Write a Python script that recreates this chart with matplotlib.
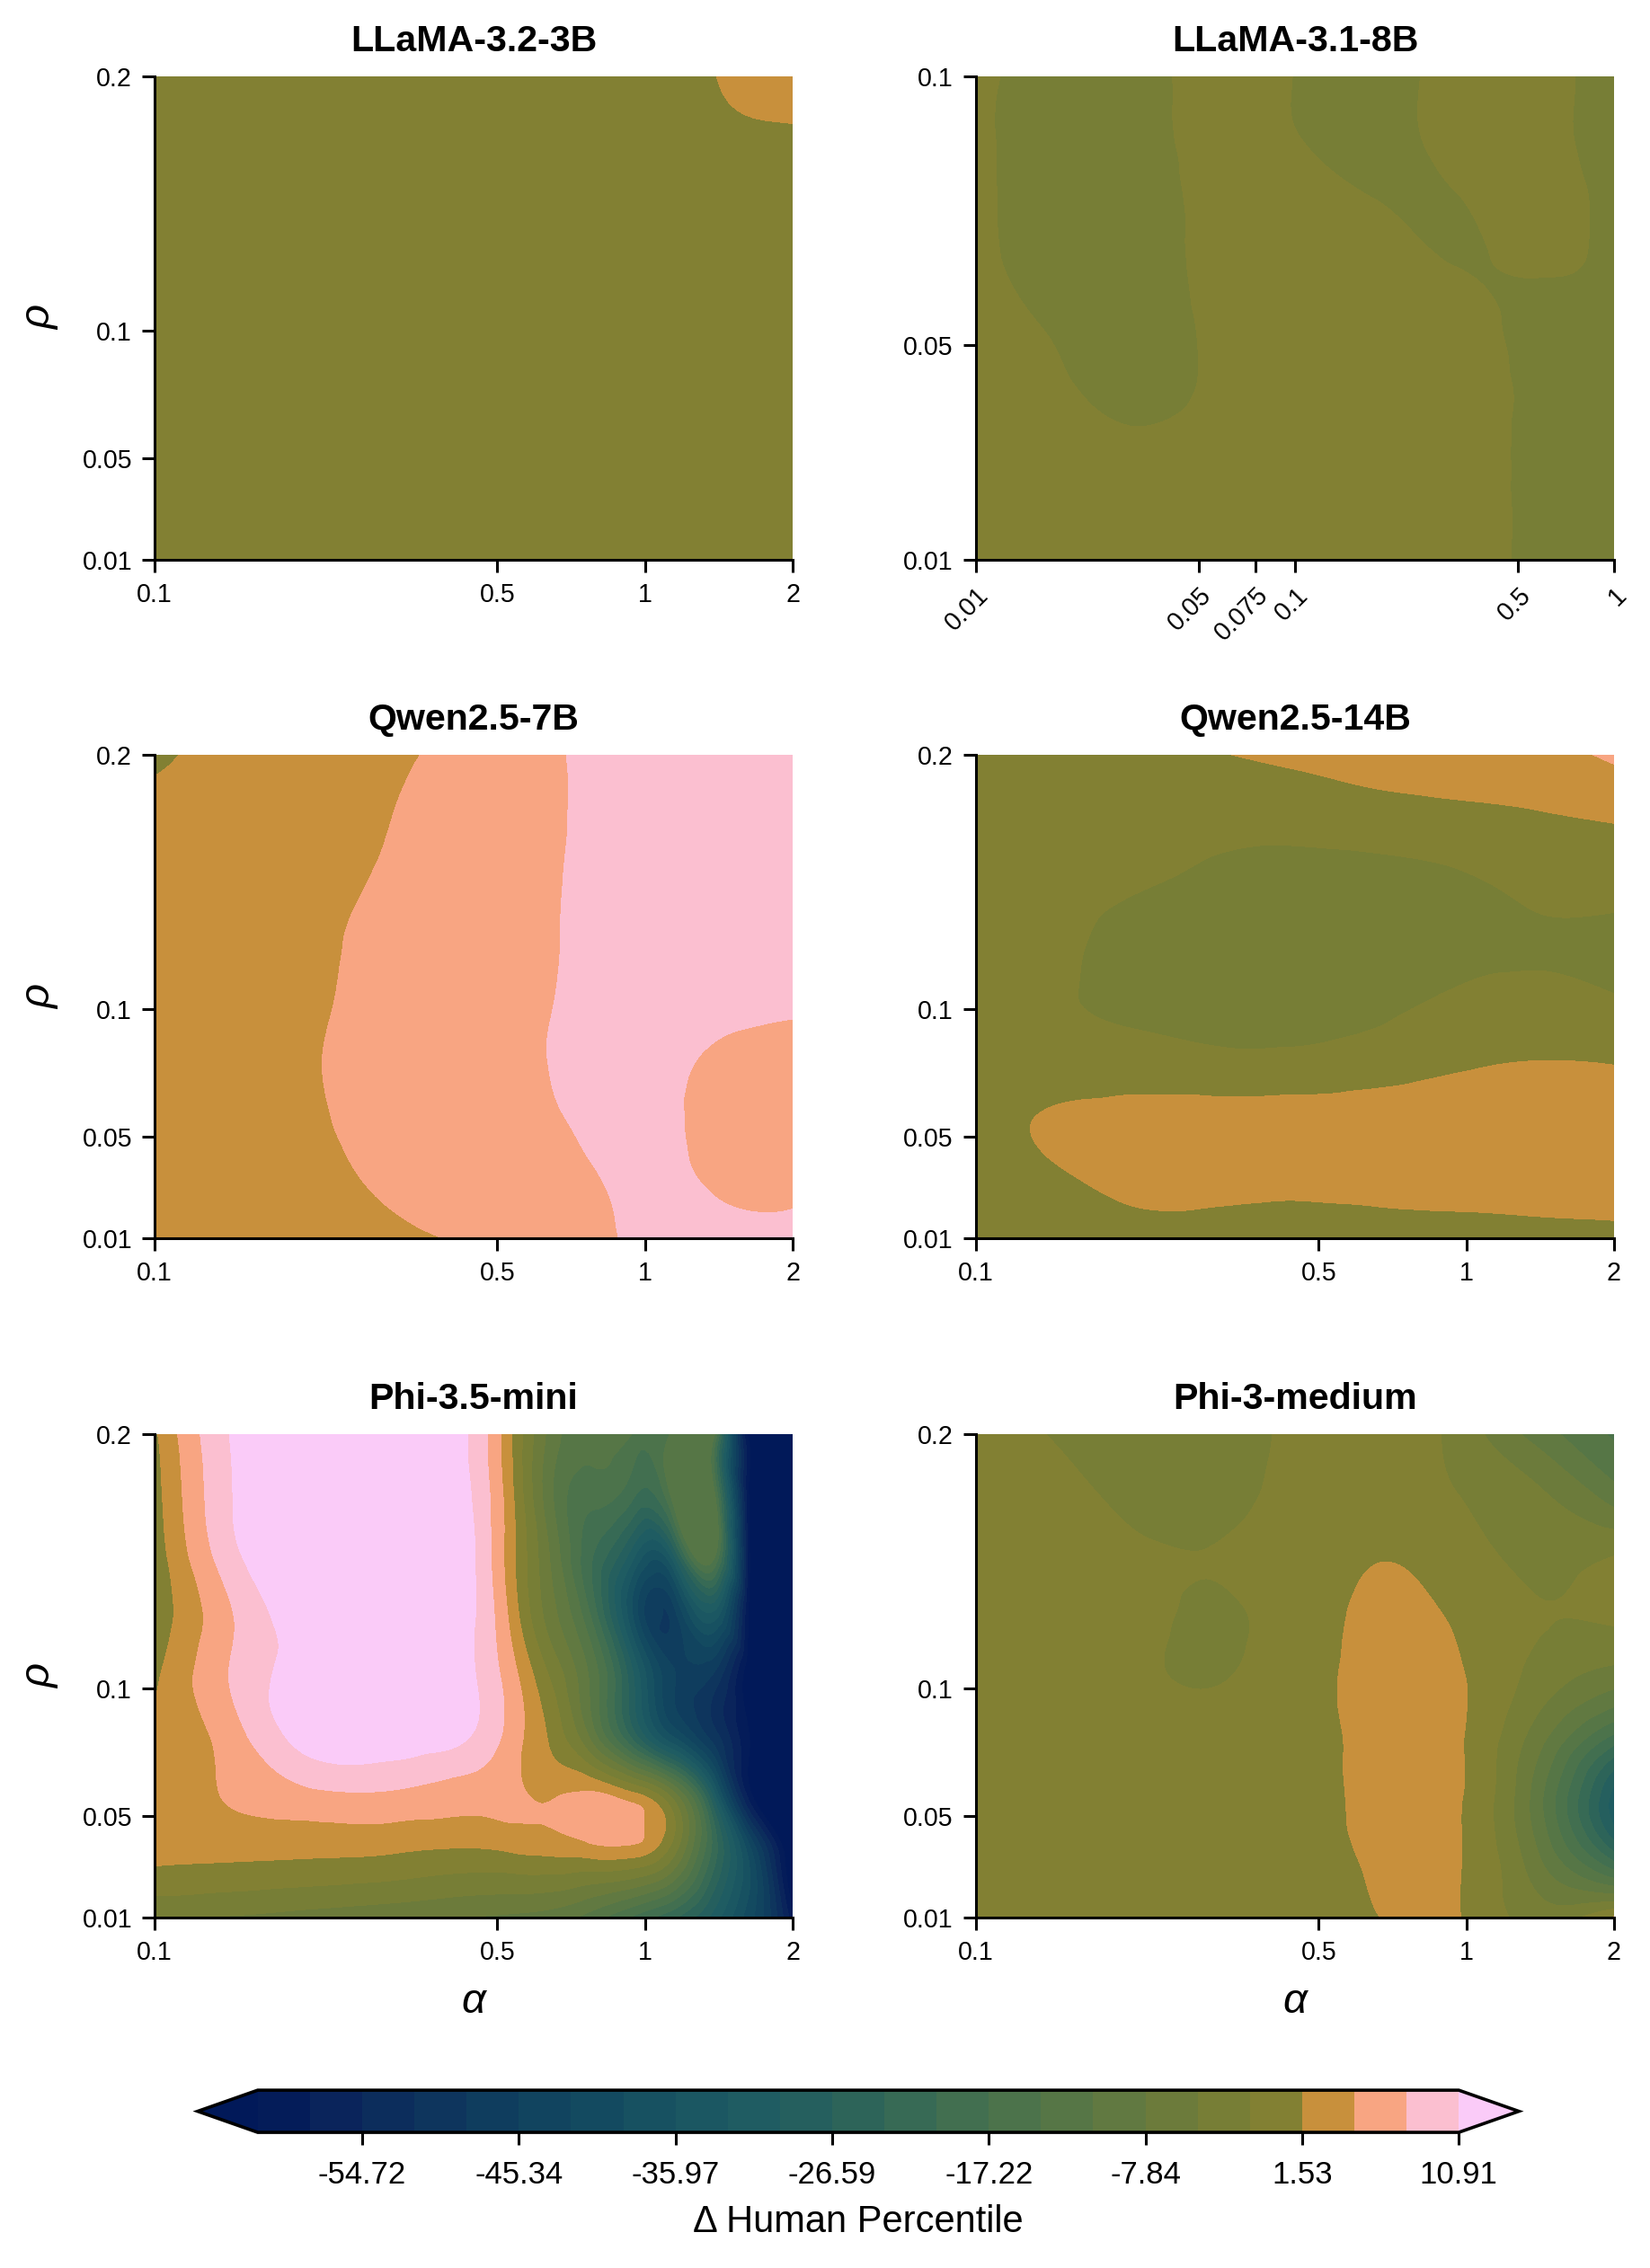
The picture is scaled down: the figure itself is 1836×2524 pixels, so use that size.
import numpy as np
import matplotlib
matplotlib.use("Agg")
import matplotlib.pyplot as plt
import matplotlib.tri as mtri
from matplotlib.ticker import FixedLocator, NullLocator

plt.rcParams['font.family'] = ['Liberation Sans', 'DejaVu Sans']

# ---------------- data ----------------
LEVEL_MIN = -60.97
LEVEL_MAX = 10.91
N_LEVELS = 24

# standard grid (alpha in [0.1, 2], rho in [0.01, 0.2]); rows listed from rho=0.2 down to rho=0.01
ALPHA_STD = [0.1, 0.145, 0.21, 0.31, 0.45, 0.65, 0.95, 1.38, 2.0]
RHO_STD = [0.2, 0.176, 0.153, 0.129, 0.105, 0.081, 0.058, 0.034, 0.01]

# LLaMA-3.1-8B grid
ALPHA_8B = [0.01, 0.0178, 0.0316, 0.0562, 0.1, 0.178, 0.316, 0.562, 1.0]
RHO_8B = [0.1, 0.089, 0.078, 0.066, 0.055, 0.044, 0.033, 0.021, 0.01]

# Phi-3.5-mini grid (denser in alpha)
ALPHA_PHI35 = [0.1, 0.145, 0.21, 0.31, 0.45, 0.54, 0.65, 0.78, 0.95, 1.14, 1.38, 1.66, 2.0]
RHO_PHI35 = RHO_STD

LLAMA32_3B = [
    [0.3, 0.4, 0.4, 0.5, 0.6, 0.7, 0.9, 1.5, 2.6],
    [0.3, 0.3, 0.4, 0.4, 0.5, 0.6, 0.7, 1.2, 1.3],
    [0.2, 0.3, 0.3, 0.4, 0.4, 0.5, 0.6, 0.7, 0.8],
    [0.2, 0.2, 0.3, 0.3, 0.4, 0.4, 0.5, 0.5, 0.6],
    [0.1, 0.2, 0.2, 0.3, 0.3, 0.4, 0.4, 0.4, 0.5],
    [0.1, 0.1, 0.2, 0.2, 0.3, 0.3, 0.3, 0.4, 0.4],
    [0.0, 0.1, 0.1, 0.2, 0.2, 0.2, 0.3, 0.3, 0.3],
    [0.0, 0.0, 0.1, 0.1, 0.1, 0.2, 0.2, 0.2, 0.3],
    [0.0, 0.0, 0.0, 0.1, 0.1, 0.1, 0.2, 0.2, 0.2],
]

LLAMA31_8B = [
    [-1.3, -2.4, -2.4, -0.8, -1.65, -2.3, -1.0, -1.0, -2.3],
    [-1.3, -2.5, -2.5, -0.8, -1.5, -2.3, -1.0, -1.0, -2.3],
    [-1.2, -2.6, -2.6, -0.9, -0.6, -1.7, -1.65, -0.8, -2.3],
    [-1.0, -2.7, -2.7, -1.0, -0.4, -0.5, -1.7, -1.2, -2.3],
    [-0.8, -2.0, -2.7, -1.1, -0.4, -0.4, -0.7, -2.2, -2.4],
    [-0.5, -1.3, -2.5, -1.2, -0.4, -0.3, -0.6, -2.0, -2.4],
    [-0.4, -0.8, -1.4, -0.9, -0.4, -0.3, -0.6, -2.0, -2.4],
    [-0.3, -0.5, -0.8, -0.6, -0.4, -0.3, -0.6, -2.0, -2.4],
    [-0.3, -0.4, -0.5, -0.5, -0.4, -0.3, -0.6, -2.0, -2.4],
]

QWEN_7B = [
    [0.9, 2.6, 3.4, 4.4, 5.5, 7.5, 8.6, 8.8, 8.8],
    [2.3, 2.9, 3.6, 4.7, 5.9, 7.5, 8.6, 8.8, 8.8],
    [2.4, 3.0, 3.8, 5.0, 6.1, 7.6, 8.6, 8.8, 8.8],
    [2.5, 3.1, 4.1, 5.4, 6.2, 7.65, 8.6, 8.8, 8.8],
    [2.5, 3.2, 4.3, 5.5, 6.4, 7.75, 8.6, 8.4, 8.1],
    [2.5, 3.2, 4.5, 5.6, 6.5, 7.9, 8.5, 7.6, 7.4],
    [2.4, 3.1, 4.4, 5.5, 6.6, 7.6, 8.4, 7.3, 7.2],
    [2.3, 2.9, 4.1, 5.1, 6.3, 7.1, 8.1, 7.6, 7.4],
    [2.2, 2.7, 3.5, 4.3, 5.0, 6.5, 8.0, 8.3, 8.3],
]

QWEN_14B = [
    [0.0, 0.2, 0.5, 1.4, 2.0, 2.6, 3.0, 3.5, 5.2],
    [-0.3, -0.3, -0.4, -0.6, -0.3, 0.3, 0.8, 1.3, 1.9],
    [-0.5, -0.8, -1.2, -2.0, -2.5, -2.4, -1.8, -0.8, -0.5],
    [-0.4, -1.0, -2.3, -2.7, -2.8, -2.7, -2.3, -1.8, -2.0],
    [-0.3, -1.2, -2.4, -2.6, -2.6, -2.2, -1.4, -1.0, -1.5],
    [0.0, -0.3, -0.3, -1.0, -1.0, -0.3, 0.8, 1.4, 1.2],
    [0.3, 1.8, 2.3, 2.6, 2.7, 2.8, 3.0, 3.0, 2.9],
    [0.2, 1.2, 2.3, 2.5, 2.4, 2.5, 2.7, 2.8, 2.8],
    [0.0, 0.3, 0.6, 0.6, 0.3, 0.6, 0.5, 0.6, 0.8],
]

PHI35_MINI = [
    [1.0, 11.3, 13.5, 13.8, 10.0, 1.0, -9.5, -13.5, -14.5, -12.5, -12.5, -66.0, -66.0],
    [0.3, 11.0, 13.8, 14.0, 10.4, 1.5, -11.0, -16.0, -20.0, -12.5, -12.5, -66.0, -66.0],
    [-0.3, 10.2, 14.0, 14.0, 10.9, 2.0, -9.0, -20.0, -32.0, -30.0, -12.5, -66.0, -66.0],
    [-0.4, 7.8, 13.0, 14.0, 11.0, 3.0, -7.0, -18.0, -40.0, -47.0, -34.0, -66.0, -66.0],
    [1.0, 8.2, 12.5, 13.5, 11.0, 5.5, -2.5, -12.0, -30.0, -45.0, -49.0, -66.0, -66.0],
    [2.0, 6.5, 12.5, 12.8, 10.5, 6.0, 0.5, -9.0, -25.0, -39.0, -50.0, -62.0, -66.0],
    [3.0, 5.0, 7.0, 7.2, 6.0, 5.3, 4.4, 5.4, 2.5, -6.0, -31.0, -61.5, -65.0],
    [2.2, 2.0, 1.7, 1.2, 0.5, 1.0, 1.5, 2.0, 1.8, -4.5, -22.0, -42.0, -66.0],
    [-4.5, -5.0, -6.0, -7.0, -8.0, -8.5, -9.5, -12.5, -18.0, -23.0, -31.0, -42.0, -60.0],
]

PHI3_MEDIUM = [
    [-0.8, -1.7, -2.6, -2.5, -1.0, 0.0, -2.5, -9.0, -14.5],
    [-0.6, -1.1, -2.1, -2.4, -0.5, 0.5, -1.5, -4.0, -9.5],
    [-0.5, -0.8, -1.2, -1.5, 0.0, 1.4, 0.0, -2.5, -1.8],
    [-0.4, -0.6, -0.8, -2.0, 0.0, 2.0, 1.2, -1.3, -1.0],
    [-0.3, -0.4, -1.0, -1.8, 0.3, 2.3, 1.9, -2.5, -6.0],
    [-0.2, -0.3, -0.3, -0.5, 0.5, 2.3, 2.0, -6.0, -18.0],
    [-0.1, -0.1, 0.0, 0.2, 0.7, 2.3, 2.0, -9.0, -31.0],
    [0.0, 0.0, 0.2, 0.4, 0.8, 2.0, 1.9, -7.0, -22.0],
    [0.0, 0.1, 0.3, 0.5, 0.8, 1.4, 1.8, -3.0, 2.0],
]

TITLES = ["LLaMA-3.2-3B", "LLaMA-3.1-8B", "Qwen2.5-7B", "Qwen2.5-14B", "Phi-3.5-mini", "Phi-3-medium"]

XTICKS_STD = [0.1, 0.5, 1, 2]
XTICKLABELS_STD = ["0.1", "0.5", "1", "2"]
YTICKS_STD = [0.01, 0.05, 0.1, 0.2]
YTICKLABELS_STD = ["0.01", "0.05", "0.1", "0.2"]
XTICKS_8B = [0.01, 0.05, 0.075, 0.1, 0.5, 1]
XTICKLABELS_8B = ["0.01", "0.05", "0.075", "0.1", "0.5", "1"]
YTICKS_8B = [0.01, 0.05, 0.1]
YTICKLABELS_8B = ["0.01", "0.05", "0.1"]

# colours (batlow-like), under, 23 bands, over
UNDER_COLOR = "#011959"
BAND_COLORS = ['#041c59', '#0a245b', '#0c2d5c', '#0e355d', '#0f3d5e', '#11445f',
               '#134a60', '#175161', '#1b5762', '#1f5c62', '#255f5e', '#2d6459',
               '#376a55', '#426f50', '#4c734b', '#567646', '#617941', '#6c7b3b',
               '#777e36', '#828033', '#c8903c', '#f8a582', '#fbbfd0']
OVER_COLOR = "#facbf8"

# ---------------- plotting ----------------
levels = np.linspace(LEVEL_MIN, LEVEL_MAX, N_LEVELS)
colors = [UNDER_COLOR] + BAND_COLORS + [OVER_COLOR]

fig = plt.figure(figsize=(9.18, 12.62), dpi=200)

W = 0.3867
H = 0.2132
lefts = [0.0937, 0.5915]
bottoms = [0.7532, 0.4540, 0.1545]


def neighbourhood(Z, fn):
    P = np.pad(Z, 1, mode='edge')
    ny, nx = Z.shape
    stack = [P[dj:dj + ny, di:di + nx] for dj in range(3) for di in range(3)]
    return fn(np.stack(stack), axis=0)


def draw_panel(ax, alpha, rho, values):
    a = np.asarray(alpha, float)
    r = np.asarray(rho, float)
    z = np.asarray(values, float)
    la = np.log10(a)
    u = (la - la.min()) / (la.max() - la.min())
    v = (r - r.min()) / (r.max() - r.min())
    U, V = np.meshgrid(u, v)
    ny, nx = U.shape
    idx = np.arange(nx * ny).reshape(ny, nx)
    tris = []
    for j in range(ny - 1):
        for i in range(nx - 1):
            p0, p1 = idx[j, i], idx[j, i + 1]
            q0, q1 = idx[j + 1, i], idx[j + 1, i + 1]
            tris.append([p0, p1, q1])
            tris.append([p0, q1, q0])
    tri = mtri.Triangulation(U.ravel(), V.ravel(), np.array(tris))
    zr = z.ravel()
    refiner = mtri.UniformTriRefiner(tri)
    interp = mtri.CubicTriInterpolator(tri, zr, kind='min_E')
    tri_f, z_f = refiner.refine_field(zr, triinterpolator=interp, subdiv=4)
    # continuous local bounds to suppress cubic overshoot
    lo = neighbourhood(z, np.min).ravel()
    hi = neighbourhood(z, np.max).ravel()
    _, lo_f = refiner.refine_field(lo, triinterpolator=mtri.LinearTriInterpolator(tri, lo), subdiv=4)
    _, hi_f = refiner.refine_field(hi, triinterpolator=mtri.LinearTriInterpolator(tri, hi), subdiv=4)
    z_f = np.clip(np.asarray(z_f, float), np.asarray(lo_f, float), np.asarray(hi_f, float))
    x_f = 10 ** (la.min() + tri_f.x * (la.max() - la.min()))
    y_f = r.min() + tri_f.y * (r.max() - r.min())
    tri_plot = mtri.Triangulation(x_f, y_f, tri_f.triangles)
    cs = ax.tricontourf(tri_plot, z_f, levels=levels, colors=colors, extend='both')
    ax.set_xscale('log')
    ax.set_xlim(a.min(), a.max())
    ax.set_ylim(r.min(), r.max())
    return cs


panels = [
    (ALPHA_STD, RHO_STD, LLAMA32_3B, XTICKS_STD, XTICKLABELS_STD, YTICKS_STD, YTICKLABELS_STD),
    (ALPHA_8B, RHO_8B, LLAMA31_8B, XTICKS_8B, XTICKLABELS_8B, YTICKS_8B, YTICKLABELS_8B),
    (ALPHA_STD, RHO_STD, QWEN_7B, XTICKS_STD, XTICKLABELS_STD, YTICKS_STD, YTICKLABELS_STD),
    (ALPHA_STD, RHO_STD, QWEN_14B, XTICKS_STD, XTICKLABELS_STD, YTICKS_STD, YTICKLABELS_STD),
    (ALPHA_PHI35, RHO_PHI35, PHI35_MINI, XTICKS_STD, XTICKLABELS_STD, YTICKS_STD, YTICKLABELS_STD),
    (ALPHA_STD, RHO_STD, PHI3_MEDIUM, XTICKS_STD, XTICKLABELS_STD, YTICKS_STD, YTICKLABELS_STD),
]

cs_last = None
for k, (al, rh, vals, xt, xtl, yt, ytl) in enumerate(panels):
    row, col = divmod(k, 2)
    ax = fig.add_axes([lefts[col], bottoms[row], W, H])
    cs_last = draw_panel(ax, al, rh, vals)
    ax.xaxis.set_major_locator(FixedLocator(xt))
    ax.xaxis.set_minor_locator(NullLocator())
    ax.yaxis.set_major_locator(FixedLocator(yt))
    ax.yaxis.set_minor_locator(NullLocator())
    if k == 1:
        ax.set_xticklabels(xtl, rotation=45, ha='right', rotation_mode='anchor')
    else:
        ax.set_xticklabels(xtl)
    ax.set_yticklabels(ytl)
    for s in ('top', 'right'):
        ax.spines[s].set_visible(False)
    for s in ('left', 'bottom'):
        ax.spines[s].set_linewidth(1.1)
    ax.tick_params(axis='both', direction='out', length=5, width=1.1, labelsize=10.3, pad=4)
    ax.set_title(TITLES[k], fontsize=14.8, fontweight='bold', pad=10)
    if col == 0:
        ax.set_ylabel('ρ', fontsize=17, fontstyle='italic', labelpad=9)
    if row == 2:
        ax.set_xlabel('α', fontsize=17, fontstyle='italic', labelpad=7)

cax = fig.add_axes([0.1198, 0.0598, 0.8007, 0.0186])
cb = fig.colorbar(cs_last, cax=cax, orientation='horizontal', extendfrac=0.05)
tick_vals = levels[2::3]
cb.set_ticks(tick_vals)
cb.set_ticklabels([f"{t:.2f}" for t in tick_vals])
cb.minorticks_off()
cb.outline.set_linewidth(1.3)
cax.tick_params(length=5, width=1.1, labelsize=12.5, pad=6)
cb.set_label('Δ Human Percentile', fontsize=15, labelpad=6)

fig.savefig("out.png", dpi=200)
